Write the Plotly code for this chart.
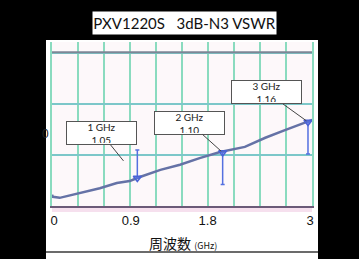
import plotly.graph_objects as go

# ---- data ----
freq_ghz = [0.0, 0.01, 0.09, 0.29, 0.41, 0.56, 0.76, 0.91, 0.97, 1.03, 1.27,
            1.50, 1.73, 1.97, 2.26, 2.50, 2.73, 3.0, 3.05]
vswr = [1.017, 1.013, 1.011, 1.019, 1.023, 1.030, 1.040, 1.044, 1.048, 1.052,
        1.066, 1.076, 1.089, 1.101, 1.111, 1.129, 1.144, 1.162, 1.164]

limit_freq = [0.0, 3.05]
limit_vswr = [1.297, 1.297]

marker_freq = [1, 2, 3]
marker_vswr = [1.05, 1.10, 1.16]
marker_bar_up = [0.055, 0.0, 0.0]
marker_bar_down = [0.0, 0.063, 0.063]

tick_vals = [0, 0.9, 1.8, 3]
tick_text = ["0", "0.9", "1.8", "3"]

title_text = "PXV1220S\u00a0\u00a0\u00a03dB-N3 VSWR"
x_title = "周波数 <span style='font-size:9px'>(GHz)</span>"

X_RANGE = [0, 3.047]
Y_RANGE = [0.995, 1.317]

fig = go.Figure()

fig.add_trace(go.Scatter(
    x=limit_freq, y=limit_vswr, mode="lines",
    line=dict(color="#7d8796", width=2), hoverinfo="skip", showlegend=False))

fig.add_trace(go.Scatter(
    x=freq_ghz, y=vswr, mode="lines",
    line=dict(color="#6572a6", width=2.5), showlegend=False))

fig.add_trace(go.Scatter(
    x=marker_freq, y=marker_vswr, mode="markers",
    marker=dict(symbol="triangle-down-open", size=7, color="#4a63d6",
                line=dict(width=1.5, color="#4a63d6")),
    error_y=dict(type="data", symmetric=False, array=marker_bar_up,
                 arrayminus=marker_bar_down, color="#5470e0", thickness=1.5, width=2),
    showlegend=False))

# invisible trace to carry the labelled overlay axis
fig.add_trace(go.Scatter(
    x=tick_vals, y=[None] * len(tick_vals), xaxis="x2", yaxis="y",
    mode="markers", hoverinfo="skip", showlegend=False))

grid_v = "#8adbbf"
grid_h = "#7cc7c9"

fig.update_layout(
    xaxis=dict(
        range=X_RANGE, tick0=0, dtick=X_RANGE[1] / 10, showticklabels=False,
        showgrid=True, gridcolor=grid_v, gridwidth=1.5, zeroline=False, ticks="",
        showline=True, linecolor="#6b5a78", linewidth=2),
    xaxis2=dict(
        range=X_RANGE, overlaying="x", anchor="y", side="bottom",
        tickvals=tick_vals, ticktext=tick_text, showgrid=False, zeroline=False,
        ticks="", ticklabelstandoff=5, ticklabelshift=2, showline=False,
        tickfont=dict(family="Liberation Sans", size=13, color="#111111")),
    yaxis=dict(
        range=Y_RANGE, tick0=0.995, dtick=0.1, showticklabels=False,
        showgrid=True, gridcolor=grid_h, gridwidth=1.5, zeroline=False,
        showline=True, mirror=True, linecolor=grid_v, linewidth=1.5, ticks=""),
)

shapes = [
    dict(type="rect", xref="paper", yref="paper", x0=-0.0231, x1=1.0231,
         y0=-0.33, y1=1.012, fillcolor="white", line=dict(width=0), layer="below"),
    dict(type="rect", xref="paper", yref="paper", x0=0, x1=1, y0=0, y1=1,
         fillcolor="#fdf8fa", line=dict(width=0), layer="below"),
    dict(type="rect", xref="paper", yref="paper", x0=0, x1=1, y0=-0.037, y1=0,
         fillcolor="#f6e0ee", line=dict(width=0), layer="below"),
    dict(type="line", xref="paper", yref="paper", x0=-0.0231, x1=1.0231,
         y0=-0.2805, y1=-0.2805, line=dict(color="#3a3a3a", width=1.5)),
]

annotations = [
    dict(text=title_text, xref="paper", yref="paper", x=0.5096, y=1.1159,
         xanchor="center", yanchor="middle",
         showarrow=False, bgcolor="white", width=183, height=22, borderpad=0,
         font=dict(family="Lato", size=15, color="#111111")),
    dict(text="0", xref="paper", yref="paper", x=-0.0231, y=0.439,
         xanchor="center", yanchor="middle",
         showarrow=False, font=dict(family="Liberation Sans", size=12, color="#222222")),
    dict(text=x_title, xref="paper", yref="paper", x=0.504, y=-0.2256,
         xanchor="center", yanchor="middle",
         showarrow=False, font=dict(family="Noto Sans CJK JP", size=14, color="#111111")),
]

offsets = [(-36, -44.5, 22), (-33, -29.6, 2), (-41, -29.5, 2)]
for f, v, (ax, ay, so) in zip(marker_freq, marker_vswr, offsets):
    annotations.append(dict(
        x=f, y=v, xref="x", yref="y", text=f"{f} GHz<br>{v:.2f}",
        showarrow=True, arrowhead=0, arrowwidth=1, arrowcolor="#444444",
        ax=ax, ay=ay, standoff=so, bgcolor="white", bordercolor="#555555",
        borderwidth=1, borderpad=1, width=67, height=20,
        font=dict(family="Lato", size=10, color="#222222")))

fig.update_layout(
    width=359, height=259, margin=dict(l=52, r=47, t=42, b=53),
    paper_bgcolor="black", plot_bgcolor="rgba(0,0,0,0)",
    shapes=shapes, annotations=annotations, showlegend=False)

fig.write_html("out.html")
